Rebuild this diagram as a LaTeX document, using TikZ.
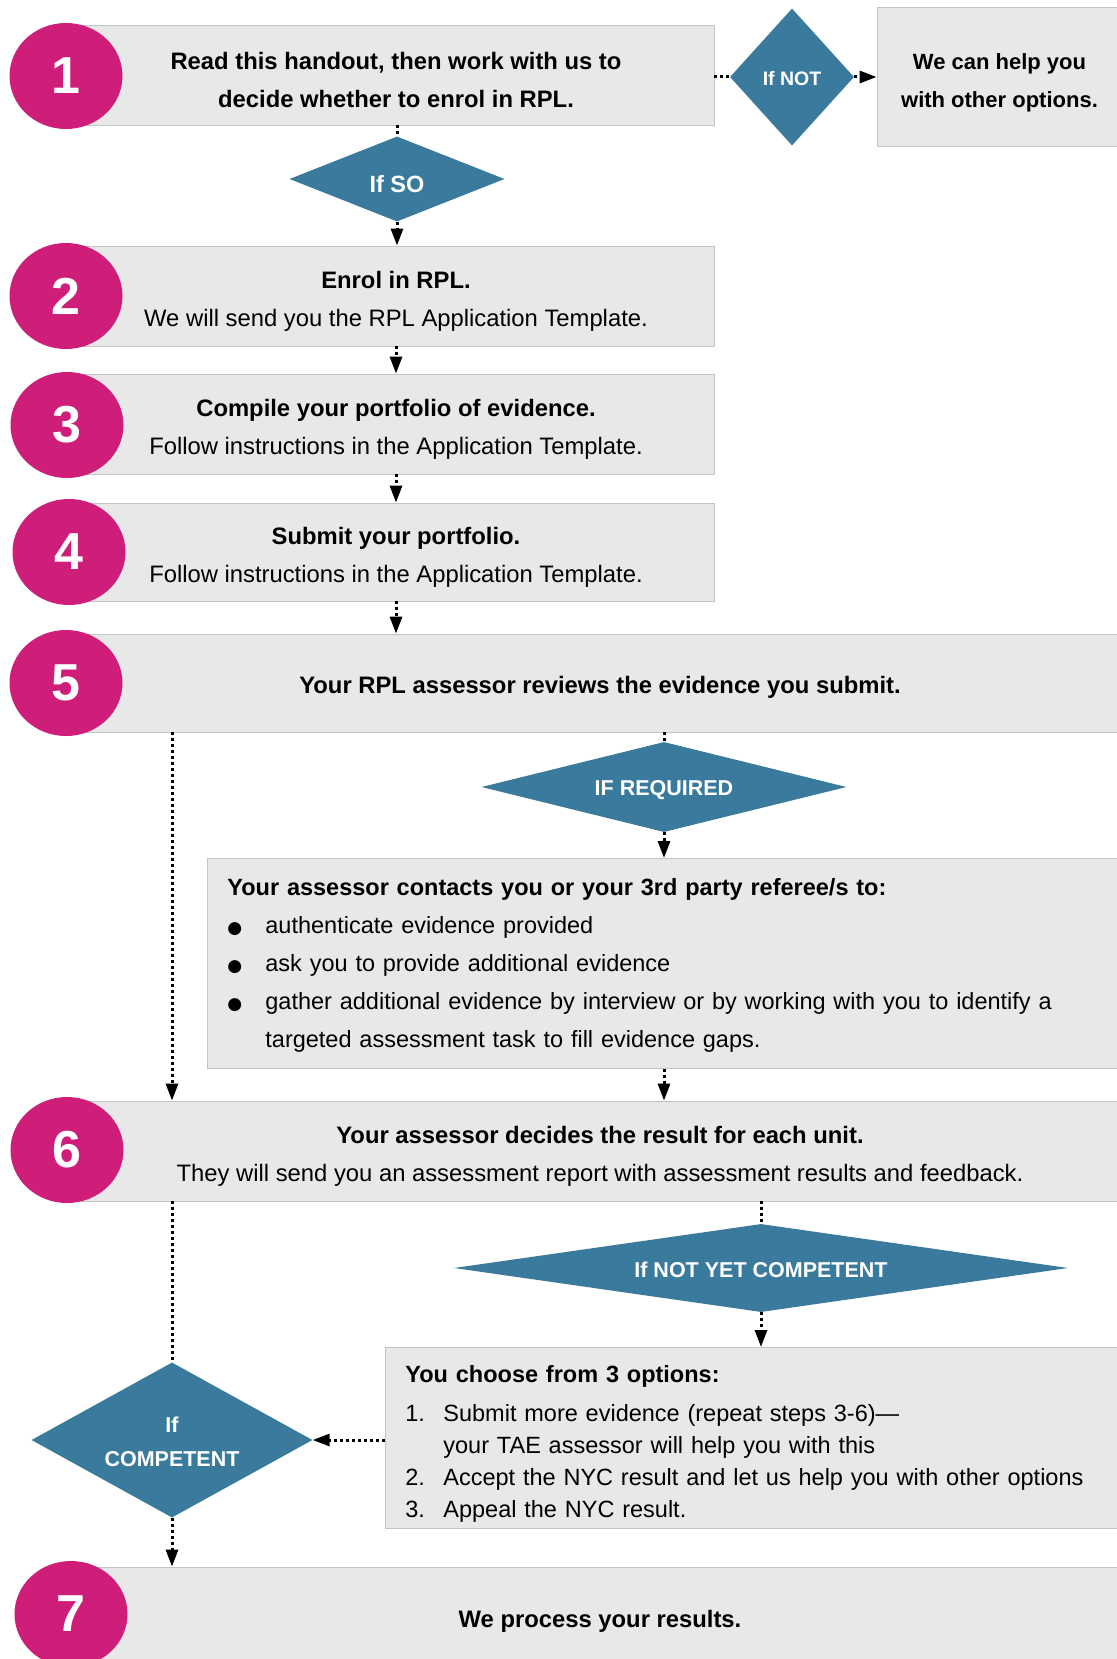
\documentclass[tikz,border=0pt]{standalone}
\usepackage{fontspec}
\setmainfont{Liberation Sans}
\newfontfamily\symfont{DejaVu Sans}
\usetikzlibrary{shapes.geometric,arrows.meta}
\definecolor{stepmagenta}{HTML}{CF1E7A}
\definecolor{choiceteal}{HTML}{3A7B9D}
\definecolor{boxgray}{HTML}{E8E8E8}
\definecolor{edgegray}{HTML}{C4C4C4}
\newcommand{\dotitem}{{\symfont\fontsize{17}{38}\selectfont ●}}
\newcommand{\toppad}[1]{\rule{0pt}{#1pt}}
\tikzset{
  stepnum/.style={ellipse, fill=stepmagenta, minimum width=113, minimum height=106, inner sep=0pt,
    text=white, font=\fontsize{52}{52}\selectfont\bfseries},
  stepbox/.style={rectangle, fill=boxgray, draw=edgegray, line width=0.8pt, inner sep=0pt,
    align=center, font=\fontsize{23.8}{38}\selectfont},
  choice/.style={diamond, fill=choiceteal, inner sep=0pt, text=white, align=center,
    font=\fontsize{21.5}{34}\selectfont\bfseries},
  flow/.style={line width=3pt, dash pattern=on 3pt off 3pt},
  flowarrow/.style={flow, -{Triangle[length=17pt,width=12pt]}},
}
\begin{document}
\begin{tikzpicture}[x=1pt,y=-1pt]
\useasboundingbox[fill=white] (0,0) rectangle (1116,1659);
% boxes
\node[stepbox, minimum width=636, minimum height=100] (b1) at (396,75)
  {\bfseries\toppad{27}Read this handout, then work with us to\\\bfseries decide whether to enrol in RPL.};
\node[stepbox, minimum width=245, minimum height=139, font=\fontsize{22}{38}\selectfont\bfseries] (help) at (999.5,76.5)
  {\toppad{28}We can help you\\with other options.};
\node[stepbox, minimum width=636, minimum height=100] (b2) at (396,296)
  {\toppad{27}\textbf{Enrol in RPL.}\\We will send you the RPL Application Template.};
\node[stepbox, minimum width=636, minimum height=100] (b3) at (396,424)
  {\toppad{27}\textbf{Compile your portfolio of evidence.}\\Follow instructions in the Application Template.};
\node[stepbox, minimum width=636, minimum height=98] (b4) at (396,552)
  {\toppad{27}\textbf{Submit your portfolio.}\\Follow instructions in the Application Template.};
\node[stepbox, minimum width=1044, minimum height=98] (b5) at (600,683)
  {\bfseries\toppad{25}Your RPL assessor reviews the evidence you submit.};
\node[stepbox, anchor=north west, text width=875, inner xsep=20pt, minimum height=210, align=left,
  font=\fontsize{23.5}{38}\selectfont] (contact) at (207,858)
  {\begin{tabular}{@{}l@{}l@{}}
   \multicolumn{2}{@{}l@{}}{\bfseries Your assessor contacts you or your 3rd party referee/s to:}\\
   \makebox[38pt][l]{\dotitem} & authenticate evidence provided\\
   \dotitem & ask you to provide additional evidence\\
   \dotitem & gather additional evidence by interview or by working with you to identify a\\
   & targeted assessment task to fill evidence gaps.
   \end{tabular}};
\node[stepbox, minimum width=1044, minimum height=100] (b6) at (600,1151)
  {\toppad{27}\textbf{Your assessor decides the result for each unit.}\\They will send you an assessment report with assessment results and feedback.};
\node[stepbox, anchor=north west, text width=695, inner xsep=20pt, minimum height=181, align=left,
  font=\fontsize{23.5}{32}\selectfont] (opts) at (385,1347)
  {\begin{tabular}{@{}l@{}l@{}}
   \multicolumn{2}{@{}l@{}}{\toppad{33}\bfseries You choose from 3 options:}\\[7pt]
   \makebox[38pt][l]{1.} & Submit more evidence (repeat steps 3-6)---\\
   & your TAE assessor will help you with this\\
   2. & Accept the NYC result and let us help you with other options\\
   3. & Appeal the NYC result.
   \end{tabular}};
\node[stepbox, minimum width=1044, minimum height=102] (b7) at (600,1618)
  {\bfseries\toppad{24}We process your results.};
% numbers
\node[stepnum] (c1) at (66,76) {1};
\node[stepnum] (c2) at (66,296) {2};
\node[stepnum] (c3) at (67,425) {3};
\node[stepnum] (c4) at (69,552) {4};
\node[stepnum] (c5) at (66,683) {5};
\node[stepnum] (c6) at (67,1150) {6};
\node[stepnum] (c7) at (71,1614) {7};
% decisions
\node[choice, aspect=0.9, minimum width=124, minimum height=137, font=\fontsize{19.5}{19}\selectfont\bfseries] (dnot) at (792,77) {\toppad{18}If NOT};
\node[choice, aspect=2.5, minimum width=215, minimum height=85, font=\fontsize{23.5}{34}\selectfont\bfseries] (dso) at (397,179) {\toppad{27}If SO};
\node[choice, aspect=4, minimum width=365, minimum height=90] (dreq) at (664,787) {\toppad{21}IF REQUIRED};
\node[choice, aspect=7, minimum width=614, minimum height=88] (dnyc) at (761,1268) {\toppad{19}If NOT YET COMPETENT};
\node[choice, aspect=1.8, minimum width=281, minimum height=155] (dcomp) at (172,1440) {\toppad{19}If\\COMPETENT};
% connectors
\draw[flow] (b1.south -| dso.north) -- (dso.north);
\draw[flowarrow] (dso.south) -- (dso.south |- b2.north);
\draw[flow] (b1.east |- dnot.west) -- (dnot.west);
\draw[flowarrow] (dnot.east) -- (dnot.east -| help.west);
\draw[flowarrow] (b2.south) -- (b3.north);
\draw[flowarrow] (b3.south) -- (b4.north);
\draw[flowarrow] (b4.south) -- (b4.south |- b5.north);
\draw[flow] (b5.south -| dreq.north) -- (dreq.north);
\draw[flowarrow] (dreq.south) -- (dreq.south |- contact.north);
\draw[flowarrow] (contact.south -| dreq.south) -- (b6.north -| dreq.south);
\draw[flowarrow] (b5.south -| dcomp.north) -- (b6.north -| dcomp.north);
\draw[flow] (b6.south -| dcomp.north) -- (dcomp.north);
\draw[flow] (b6.south -| dnyc.north) -- (dnyc.north);
\draw[flowarrow] (dnyc.south) -- (dnyc.south |- opts.north);
\draw[flowarrow] (opts.west |- dcomp.east) -- (dcomp.east);
\draw[flowarrow] (dcomp.south) -- (dcomp.south |- b7.north);
\end{tikzpicture}
\end{document}
